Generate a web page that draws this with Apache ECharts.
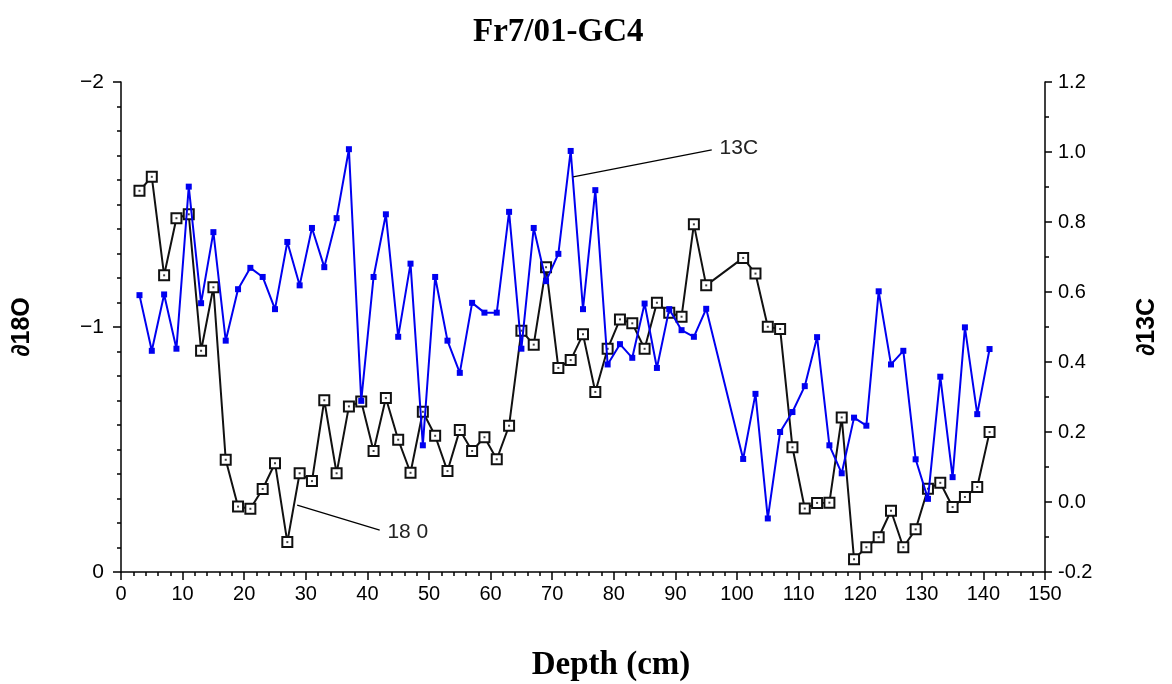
<!DOCTYPE html>
<html>
<head>
<meta charset="utf-8">
<script src="https://cdn.jsdelivr.net/npm/echarts@6/dist/echarts.min.js"></script>
<style>
html,body{margin:0;padding:0;background:#fff;}
#chart{width:1172px;height:684px;}
</style>
</head>
<body>
<div id="chart"></div>
<script>
// Depth (cm) of each sample
const depths = [3,5,7,9,11,13,15,17,19,21,23,25,27,29,31,33,35,37,39,41,43,45,47,49,51,53,55,57,59,61,63,65,67,69,71,73,75,77,79,81,83,85,87,89,91,93,95,101,103,105,107,109,111,113,115,117,119,121,123,125,127,129,131,133,135,137,139,141];
// δ18O (left axis, inverted)
const d18O = [-1.556,-1.613,-1.211,-1.444,-1.460,-0.903,-1.162,-0.458,-0.267,-0.258,-0.339,-0.444,-0.122,-0.403,-0.371,-0.701,-0.403,-0.676,-0.696,-0.494,-0.710,-0.540,-0.405,-0.654,-0.556,-0.412,-0.580,-0.494,-0.550,-0.460,-0.597,-0.985,-0.928,-1.244,-0.833,-0.865,-0.970,-0.735,-0.911,-1.031,-1.015,-0.911,-1.099,-1.058,-1.042,-1.419,-1.170,-1.282,-1.218,-1.001,-0.992,-0.509,-0.259,-0.282,-0.283,-0.631,-0.052,-0.101,-0.142,-0.250,-0.101,-0.174,-0.340,-0.364,-0.265,-0.306,-0.347,-0.571];
// δ13C (right axis)
const d13C = [0.591,0.432,0.593,0.438,0.901,0.568,0.771,0.461,0.608,0.669,0.643,0.551,0.743,0.619,0.783,0.671,0.811,1.008,0.289,0.643,0.822,0.472,0.681,0.162,0.643,0.461,0.369,0.569,0.541,0.541,0.829,0.438,0.783,0.631,0.709,1.003,0.551,0.891,0.393,0.451,0.412,0.567,0.383,0.551,0.491,0.472,0.552,0.123,0.309,-0.047,0.200,0.257,0.331,0.471,0.162,0.082,0.241,0.218,0.602,0.393,0.432,0.122,0.009,0.358,0.071,0.499,0.251,0.437];
// Tick ranges
const xTicks = {min:0, max:150, step:10};
const leftTicks = {min:-2, max:0, step:1};
const rightTicks = {min:-0.2, max:1.2, step:0.2};
// Annotation leader lines (data coordinates) and texts
const label13C = {text:'13C', from:[73.4,0.929], to:[95.9,1.006]};
const label18O = {text:'18 0', from:[28.6,-0.273], to:[42.0,-0.171]};

const chart = echarts.init(document.getElementById('chart'), null, {renderer:'canvas'});
const pts18 = depths.map((d,i)=>[d,d18O[i]]);
const pts13 = depths.map((d,i)=>[d,d13C[i]]);
const sans = 'Liberation Sans';
const serif = 'Liberation Serif';

function leader(o){
  return {
    silent:true,
    symbol:['none','none'],
    lineStyle:{color:'#000',width:1.2,type:'solid'},
    label:{show:true,position:'end',formatter:o.text,color:'#222',fontFamily:sans,fontSize:21,distance:8},
    data:[[{coord:o.from},{coord:o.to}]]
  };
}

chart.setOption({
  animation:false,
  backgroundColor:'#fff',
  title:{text:'Fr7/01-GC4',left:468,top:11,textStyle:{fontFamily:serif,fontWeight:'bold',fontSize:33,color:'#000'}},
  grid:{left:121,right:127,top:82,bottom:112,containLabel:false,outerBoundsMode:'none'},
  xAxis:{
    type:'value',min:xTicks.min,max:xTicks.max,interval:xTicks.step,
    name:'Depth (cm)',nameLocation:'middle',nameGap:77,
    nameTextStyle:{fontFamily:serif,fontWeight:'bold',fontSize:33,color:'#000',padding:[0,0,0,56]},
    axisLine:{show:true,onZero:false,lineStyle:{color:'#000',width:1.5}},
    axisTick:{show:true,inside:false,length:8,lineStyle:{color:'#000',width:1.5}},
    minorTick:{show:true,splitNumber:5,length:4,lineStyle:{color:'#000',width:1.5}},
    axisLabel:{color:'#000',fontFamily:sans,fontSize:20,margin:12},
    splitLine:{show:false},minorSplitLine:{show:false}
  },
  yAxis:[{
    type:'value',position:'left',inverse:true,min:leftTicks.min,max:leftTicks.max,interval:leftTicks.step,
    name:'\u220218O',nameLocation:'middle',nameRotate:90,nameGap:86,
    nameTextStyle:{fontFamily:sans,fontWeight:'bold',fontSize:25,color:'#000'},
    axisLine:{show:true,onZero:false,lineStyle:{color:'#000',width:1.5}},
    axisTick:{show:true,inside:false,length:8,lineStyle:{color:'#000',width:1.5}},
    minorTick:{show:true,splitNumber:10,length:4,lineStyle:{color:'#000',width:1.5}},
    axisLabel:{color:'#000',fontFamily:sans,fontSize:21,margin:17,formatter:v=>(v<0?'\u2212':'')+Math.abs(v)},
    splitLine:{show:false},minorSplitLine:{show:false}
  },{
    type:'value',position:'right',min:rightTicks.min,max:rightTicks.max,interval:rightTicks.step,
    name:'\u220213C',nameLocation:'middle',nameRotate:90,nameGap:90,
    nameTextStyle:{fontFamily:sans,fontWeight:'bold',fontSize:25,color:'#000'},
    axisLine:{show:true,onZero:false,lineStyle:{color:'#000',width:1.5}},
    axisTick:{show:true,inside:false,length:7,lineStyle:{color:'#000',width:1.5}},
    minorTick:{show:true,splitNumber:2,length:4,lineStyle:{color:'#000',width:1.5}},
    axisLabel:{color:'#000',fontFamily:sans,fontSize:20,margin:13,formatter:v=>v.toFixed(1)},
    splitLine:{show:false},minorSplitLine:{show:false}
  }],
  series:[{
    name:'18O',type:'line',yAxisIndex:0,data:pts18,
    symbol:'emptyRect',symbolSize:10,showAllSymbol:true,
    lineStyle:{color:'#111',width:2},
    itemStyle:{color:'#111',borderColor:'#111',borderWidth:1.8},
    markLine:leader(label18O),z:2
  },{
    name:'18Odot',type:'scatter',yAxisIndex:0,data:pts18,
    symbol:'rect',symbolSize:2,itemStyle:{color:'#111'},z:3,silent:true
  },{
    name:'13C',type:'line',yAxisIndex:1,data:pts13,
    symbol:'rect',symbolSize:6,showAllSymbol:true,
    lineStyle:{color:'#0000f0',width:2},
    itemStyle:{color:'#0000f0'},
    markLine:leader(label13C),z:4
  }]
});
</script>
</body>
</html>
